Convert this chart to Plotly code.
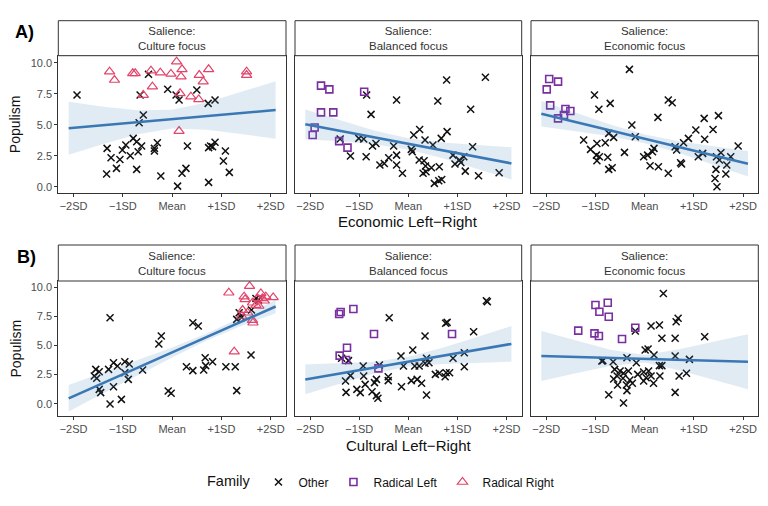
import plotly.graph_objects as go

# ---------------- data (x in SD units, y = populism) ----------------
tick_vals = [-2, -1, 0, 1, 2]
tick_text = ["\u22122SD", "\u22121SD", "Mean", "+1SD", "+2SD"]
ytick_vals = [0, 2.5, 5, 7.5, 10]
ytick_text = ["0.0", "2.5", "5.0", "7.5", "10.0"]
strip_labels = ["Salience:<br>Culture focus", "Salience:<br>Balanced focus", "Salience:<br>Economic focus"]
row_titles = ["Economic Left\u2212Right", "Cultural Left\u2212Right"]
row_tags = ["A)", "B)"]
families = ["Other", "Radical Left", "Radical Right"]

fit_x = [-2.1, 2.1]
band_x = [-2.1, -1.4, -0.7, 0.0, 0.7, 1.4, 2.1]

# A) culture focus
a1_other_x = [-1.93, -0.48, -0.09, 0.08, 0.14, 0.50, 0.73, 0.87, -0.65, -0.585, -0.67, -1.32, -1.24, -1.33,
              -1.13, -1.06, -0.94, -1.01, -0.85, -0.79, -0.72, -0.69, -0.62, -0.72, -0.36, -0.36, -0.30,
              -0.23, 0.11, 0.20, 0.28, 0.31, 0.74, 0.82, 0.78, 0.87, 0.74, 1.08, 1.04, 1.16]
a1_other_y = [7.39, 9.06, 7.85, 7.39, 6.99, 7.80, 6.72, 6.99, 7.39, 5.78, 5.16, 3.09, 2.34, 1.02,
              1.48, 2.20, 3.36, 2.96, 2.50, 3.90, 3.63, 2.82, 3.28, 1.40, 2.88, 3.09, 3.55,
              0.86, 0.05, 1.08, 1.48, 3.28, 3.15, 3.23, 3.28, 3.58, 0.35, 2.88, 2.07, 1.16]
a1_rr_x = [-1.27, -1.17, -0.80, -0.75, -0.585, -0.40, -0.43, -0.24, -0.025, 0.09, 0.20, 0.18, 0.16,
           0.14, 0.38, 0.55, 0.54, 0.63, 0.74, 1.51, 1.51]
a1_rr_y = [9.27, 8.60, 9.14, 9.14, 7.39, 8.06, 9.35, 9.19, 9.09, 10.08, 9.46, 8.87, 7.53,
           4.49, 7.26, 9.00, 7.04, 8.47, 9.46, 9.27, 9.00]
a1_fit = [4.71, 6.18]
a1_hi = [6.85, 6.45, 6.16, 6.21, 6.79, 7.62, 8.50]
a1_lo = [2.57, 3.45, 4.24, 4.69, 4.59, 4.26, 3.86]

# A) balanced focus
a2_other_x = [-0.85, -0.24, 0.78, 1.57, 0.60, 1.27, -0.76, -1.39, -1.01, -0.91, -1.18, -0.86, -0.73, -0.66,
              -0.58, -0.49, -0.40, -0.24, -0.24, -0.30, -0.12, 0.06, 0.08, 0.11, 0.23, 0.34, 0.50, 0.22,
              0.32, 0.35, 0.30, 0.47, 0.36, 0.53, 0.62, 0.68, 0.63, 0.67, 0.79, 0.91, 0.95, 1.04, 1.07,
              1.13, 1.16, 1.31, 1.43, 1.85]
a2_other_y = [7.39, 6.99, 8.60, 8.82, 6.91, 6.24, 5.83, 3.84, 3.90, 3.84, 2.47, 2.42, 3.28, 3.49,
              1.75, 1.88, 2.34, 2.55, 1.75, 3.28, 1.08, 3.01, 2.82, 4.17, 4.62, 3.76, 3.36, 2.15,
              2.10, 1.67, 1.08, 1.53, 1.21, 0.27, 0.48, 0.59, 1.61, 3.90, 4.44, 2.55, 1.83, 2.15, 1.96,
              2.42, 1.26, 3.23, 0.89, 1.13]
a2_rl_x = [-1.78, -1.61, -1.78, -1.53, -0.90, -1.91, -1.95, -1.41, -1.24]
a2_rl_y = [8.15, 7.85, 5.99, 5.99, 7.66, 4.78, 4.17, 3.68, 3.15]
a2_fit = [5.03, 1.88]
a2_hi = [6.23, 5.36, 4.54, 3.91, 3.56, 3.36, 3.18]
a2_lo = [3.83, 3.66, 3.42, 3.01, 2.30, 1.46, 0.58]

# A) economic focus
a3_other_x = [-0.31, -1.02, -0.93, -0.70, 0.48, 0.56, 0.27, -0.26, 1.21, 1.50, 1.04, 1.39, 1.22, 0.89,
              0.79, 0.62, 0.65, -0.19, -0.73, -0.63, -1.24, -0.97, -0.80, -1.10, -0.98, -0.92, -0.75,
              -0.97, -0.73, -0.66, -0.41, -0.02, 0.06, 0.16, 0.19, 0.11, 0.28, 0.48, 0.73, 0.75, 1.09,
              1.18, 1.46, 1.55, 1.52, 1.75, 1.45, 1.67, 1.65, 1.43, 1.47, 1.90]
a3_other_y = [9.46, 7.39, 6.24, 6.72, 6.99, 6.77, 5.59, 4.97, 5.51, 5.73, 4.57, 4.62, 3.82, 3.90,
              3.55, 3.23, 2.96, 4.03, 4.30, 3.98, 3.76, 3.49, 3.55, 3.01, 2.55, 2.42, 2.37,
              2.10, 1.40, 1.53, 2.77, 2.42, 2.55, 2.82, 3.09, 1.69, 1.61, 1.08, 1.94, 1.83, 2.42,
              2.69, 2.42, 2.74, 2.15, 2.42, 1.40, 1.75, 1.02, 0.67, 0.00, 3.28]
a3_rl_x = [-1.94, -1.76, -1.99, -1.92, -1.61, -1.51, -1.64, -1.76]
a3_rl_y = [8.68, 8.47, 7.85, 6.56, 6.26, 6.10, 5.78, 5.51]
a3_fit = [5.88, 1.85]
a3_hi = [6.91, 5.95, 5.02, 4.21, 3.67, 3.26, 2.88]
a3_lo = [4.85, 4.47, 4.06, 3.51, 2.71, 1.78, 0.82]

# B) culture focus
b1_other_x = [-1.26, -1.55, -1.48, -1.58, -1.53, -1.48, -1.45, -1.29, -1.19, -1.11, -0.96, -0.87, -0.96,
              -0.89, -1.19, -1.26, -1.03, -0.60, -0.27, -0.22, -0.08, -0.02, 0.29, 0.42, 0.42, 0.53,
              0.64, 0.67, 0.68, 0.82, 1.09, 1.28, 1.31, 1.31, 1.36, 1.41, 1.61, 1.60, 1.70, 1.75]
b1_other_y = [7.39, 2.95, 2.75, 2.38, 2.18, 1.23, 0.95, 2.95, 3.52, 3.24, 3.61, 3.41, 2.66,
              2.09, 1.46, -0.03, 0.37, 2.89, 5.13, 5.82, 1.09, 0.89, 3.18, 2.84, 6.96, 6.68,
              2.89, 3.95, 3.27, 3.61, 3.18, 3.18, 1.12, 7.25, 7.82, 7.42, 8.05, 4.18, 9.05, 8.91]
b1_rr_x = [1.15, 1.26, 1.46, 1.57, 1.48, 1.63, 1.73, 1.80, 1.83, 1.87, 1.90, 2.05, 1.70, 1.53, 1.43,
           1.63, 1.64, 1.76, 1.41]
b1_rr_y = [9.54, 4.47, 9.20, 10.11, 8.97, 8.68, 9.05, 9.48, 9.05, 8.85, 9.20, 9.14, 8.48, 7.82, 8.05,
           7.19, 6.96, 8.40, 7.54]
b1_fit = [0.46, 8.36]
b1_hi = [1.60, 2.67, 3.75, 4.84, 6.03, 7.43, 8.94]
b1_lo = [-0.68, 0.89, 2.46, 3.98, 5.43, 6.67, 7.78]

# B) balanced focus
b2_other_x = [1.61, 1.59, -0.39, 0.76, 0.79, 1.33, 0.34, 0.09, -0.15, 0.37, 0.42, 0.91, 1.14, 0.13,
              0.22, 0.34, -0.10, -1.36, -1.22, -0.92, -0.59, -1.18, -1.28, -1.27, -1.05, -0.98, -0.88,
              -0.91, -0.74, -0.69, -0.65, -0.62, -0.65, -0.41, -0.41, -0.14, 0.06, 0.18, 0.27, 0.37,
              0.55, 0.63, 0.75, 0.77, 0.84, 1.14]
b2_other_y = [8.77, 8.85, 7.39, 6.91, 6.99, 6.19, 5.82, 4.61, 4.10, 3.90, 3.52, 3.90, 4.38, 3.24,
              3.24, 3.47, 3.24, 3.90, 3.70, 3.24, 3.32, 2.41, 1.95, 0.97, 1.23, 0.95, 1.66,
              2.38, 1.03, 1.81, 2.09, 0.46, 0.69, 2.32, 1.98, 1.46, 1.98, 2.09, 1.75, 0.74,
              2.52, 2.61, 2.32, 2.66, 2.66, 3.18]
b2_rl_x = [-1.41, -1.38, -1.12, -0.70, -1.25, -1.40, -1.27, 0.89, -0.61]
b2_rl_y = [7.71, 7.88, 8.14, 5.99, 4.81, 4.13, 3.75, 5.99, 3.04]
b2_fit = [2.08, 5.14]
b2_hi = [3.36, 3.46, 3.61, 4.03, 4.82, 5.73, 6.67]
b2_lo = [0.80, 1.72, 2.59, 3.19, 3.42, 3.53, 3.61]

# B) economic focus
b3_other_x = [0.38, 0.68, 0.64, -0.19, 0.13, 0.30, 0.35, 0.62, 1.22, 0.01, 0.07, 0.19, 0.62, 0.91,
              -0.85, -0.64, -0.36, -0.17, -0.61, -0.50, -0.43, -0.33, -0.56, -0.44, -0.63, -0.30,
              -0.25, -0.37, -0.55, -0.36, -0.73, -0.43, -0.14, -0.02, 0.03, -0.02, 0.08, 0.13, 0.18,
              0.30, 0.35, 0.31, 0.70, 0.85, 0.62, -0.87]
b3_other_y = [9.48, 7.34, 7.05, 6.25, 6.68, 6.76, 5.62, 5.62, 5.76, 4.61, 4.70, 4.18, 4.10, 3.81,
              3.70, 3.61, 3.95, 3.52, 2.95, 2.81, 2.61, 2.81, 2.38, 2.18, 2.12, 2.03,
              1.75, 1.61, 1.61, 1.12, 0.77, 0.06, 2.52, 2.72, 2.23, 1.95, 2.81, 2.38, 1.75,
              3.27, 3.27, 2.38, 2.38, 2.61, 0.97, 3.67]
b3_rl_x = [-1.00, -0.75, -0.92, -0.73, -1.35, -1.02, -0.93, -0.46, -0.19]
b3_rl_y = [8.48, 8.68, 7.91, 7.48, 6.28, 6.05, 5.82, 5.56, 6.53]
b3_fit = [4.10, 3.61]
b3_hi = [6.25, 5.43, 4.64, 4.18, 4.68, 5.32, 5.97]
b3_lo = [1.95, 2.61, 3.24, 3.54, 2.88, 2.08, 1.25]

# ---------------- layout geometry (pixels) ----------------
W, H = 768, 506
col_px = [(58.3, 286.0), (295.0, 521.7), (531.0, 758.3)]
row_plot_px = [(55.7, 192.7), (281.0, 416.0)]
row_strip_px = [(20.7, 55.7), (245.0, 281.0)]
row_yrange = [[-0.48, 10.56], [-1.06, 10.55]]
xrange_ = [-2.31, 2.31]


def fx(p):
    return p / W


def fy(p):
    return 1 - p / H


FONT = "Liberation Sans, Arial, sans-serif"
C_OTHER = "#111111"
C_RL = "#7a2fa0"
C_RR = "#e2446a"
C_LINE = "#3a78b5"
C_BAND = "rgba(70,130,180,0.16)"

styles = {
    "Other": dict(symbol="x-thin-open", size=7, color=C_OTHER, line=dict(width=1.5, color=C_OTHER)),
    "Radical Left": dict(symbol="square-open", size=7, color=C_RL, line=dict(width=1.6, color=C_RL)),
    "Radical Right": dict(symbol="triangle-up-open", size=9, color=C_RR, line=dict(width=1.2, color=C_RR)),
}
rank = {"Other": 1, "Radical Left": 2, "Radical Right": 3}

panels = [
    [  # row A
        dict(pts=[("Other", a1_other_x, a1_other_y), ("Radical Right", a1_rr_x, a1_rr_y)], fit=a1_fit, hi=a1_hi, lo=a1_lo),
        dict(pts=[("Other", a2_other_x, a2_other_y), ("Radical Left", a2_rl_x, a2_rl_y)], fit=a2_fit, hi=a2_hi, lo=a2_lo),
        dict(pts=[("Other", a3_other_x, a3_other_y), ("Radical Left", a3_rl_x, a3_rl_y)], fit=a3_fit, hi=a3_hi, lo=a3_lo),
    ],
    [  # row B
        dict(pts=[("Other", b1_other_x, b1_other_y), ("Radical Right", b1_rr_x, b1_rr_y)], fit=b1_fit, hi=b1_hi, lo=b1_lo),
        dict(pts=[("Other", b2_other_x, b2_other_y), ("Radical Left", b2_rl_x, b2_rl_y)], fit=b2_fit, hi=b2_hi, lo=b2_lo),
        dict(pts=[("Other", b3_other_x, b3_other_y), ("Radical Left", b3_rl_x, b3_rl_y)], fit=b3_fit, hi=b3_hi, lo=b3_lo),
    ],
]

fig = go.Figure()
shapes = []
annotations = []
shown = set()
layout_axes = {}

idx = 0
for r in range(2):
    for c in range(3):
        idx += 1
        xa = "x" if idx == 1 else f"x{idx}"
        ya = "y" if idx == 1 else f"y{idx}"
        p = panels[r][c]
        # points
        for fam, xs, ys in p["pts"]:
            show = fam not in shown
            shown.add(fam)
            fig.add_trace(go.Scatter(
                x=xs, y=ys, mode="markers", name=fam, legendgroup=fam, showlegend=show,
                legendrank=rank[fam], marker=styles[fam], xaxis=xa, yaxis=ya, cliponaxis=False))
        # confidence band
        fig.add_trace(go.Scatter(
            x=band_x + band_x[::-1], y=p["hi"] + p["lo"][::-1], mode="lines", fill="toself",
            fillcolor=C_BAND, line=dict(width=0), showlegend=False, hoverinfo="skip",
            xaxis=xa, yaxis=ya))
        # fitted line
        fig.add_trace(go.Scatter(
            x=fit_x, y=p["fit"], mode="lines", line=dict(color=C_LINE, width=2.6),
            showlegend=False, xaxis=xa, yaxis=ya))

        x0, x1 = col_px[c]
        y0, y1 = row_plot_px[r]
        axname_x = "xaxis" if idx == 1 else f"xaxis{idx}"
        axname_y = "yaxis" if idx == 1 else f"yaxis{idx}"
        layout_axes[axname_x] = dict(
            domain=[fx(x0), fx(x1)], range=xrange_, anchor=ya, tickvals=tick_vals, ticktext=tick_text,
            ticks="outside", ticklen=3, tickwidth=1, tickcolor="#333333", showgrid=False, zeroline=False,
            showline=True, mirror=True, linecolor="#333333", linewidth=1,
            tickfont=dict(family=FONT, size=11, color="#4d4d4d"), fixedrange=True)
        layout_axes[axname_y] = dict(
            domain=[fy(y1), fy(y0)], range=row_yrange[r], anchor=xa, tickvals=ytick_vals,
            ticktext=ytick_text, ticks="outside" if c == 0 else "", ticklen=3, tickwidth=1,
            tickcolor="#333333", showticklabels=(c == 0), showgrid=False, zeroline=False,
            showline=True, mirror=True, linecolor="#333333", linewidth=1,
            tickfont=dict(family=FONT, size=11, color="#4d4d4d"), fixedrange=True)

        # strip
        sy0, sy1 = row_strip_px[r]
        shapes.append(dict(type="rect", xref="paper", yref="paper", x0=fx(x0), x1=fx(x1),
                           y0=fy(sy1), y1=fy(sy0), fillcolor="white",
                           line=dict(color="#333333", width=1)))
        annotations.append(dict(text=strip_labels[c], xref="paper", yref="paper",
                                x=fx((x0 + x1) / 2), y=fy((sy0 + sy1) / 2), showarrow=False,
                                xanchor="center", yanchor="middle",
                                font=dict(family=FONT, size=11.5, color="#333333")))

    # row-level annotations
    ymid = (row_plot_px[r][0] + row_plot_px[r][1]) / 2
    annotations.append(dict(text="Populism", xref="paper", yref="paper", x=fx(15), y=fy(ymid),
                            textangle=-90, showarrow=False, xanchor="center", yanchor="middle",
                            font=dict(family=FONT, size=14, color="#111111")))
    annotations.append(dict(text=row_titles[r], xref="paper", yref="paper",
                            x=fx(408), y=fy([221.5, 445.0][r]), showarrow=False,
                            xanchor="center", yanchor="middle",
                            font=dict(family=FONT, size=15, color="#111111")))
    annotations.append(dict(text="<b>" + row_tags[r] + "</b>", xref="paper", yref="paper",
                            x=fx([24, 26][r]), y=fy([32, 257][r]), showarrow=False,
                            xanchor="center", yanchor="middle",
                            font=dict(family=FONT, size=18, color="#000000")))

fig.update_layout(
    width=W, height=H, margin=dict(l=0, r=0, t=0, b=0),
    paper_bgcolor="white", plot_bgcolor="white",
    shapes=shapes, annotations=annotations,
    legend=dict(orientation="h", x=fx(205), y=fy(482), xanchor="left", yanchor="middle",
                title=dict(text="Family", font=dict(family=FONT, size=14.5, color="#111111")),
                font=dict(family=FONT, size=12, color="#111111"), bgcolor="rgba(0,0,0,0)",
                itemwidth=30, traceorder="normal"),
    **layout_axes,
)

fig.write_html("out.html", config={"displayModeBar": False},
               post_script="document.body.style.margin='0px';document.body.style.padding='0px';")
